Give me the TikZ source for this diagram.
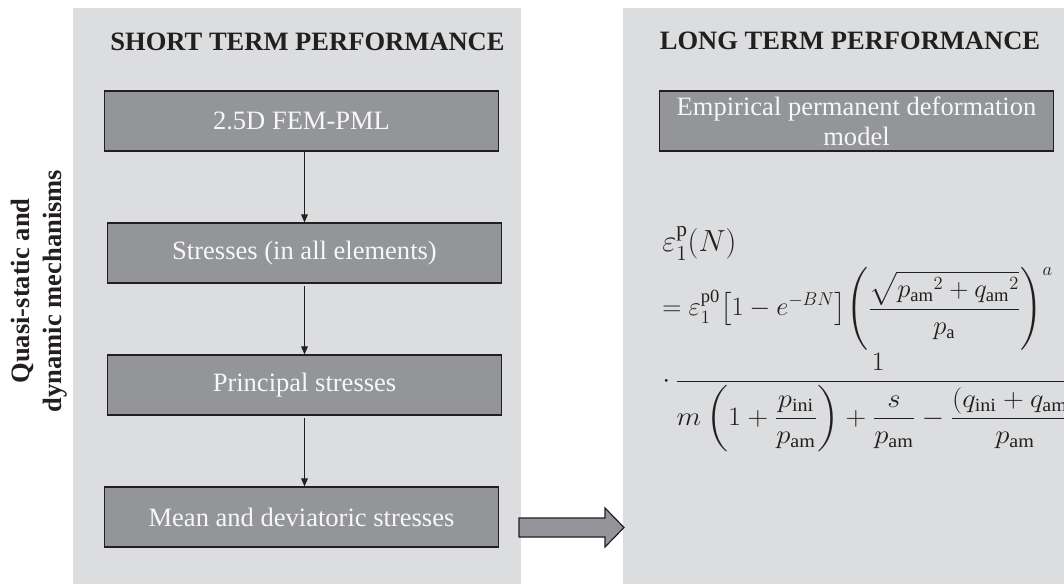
\RequirePackage{fix-cm}
\documentclass[tikz,border=0pt]{standalone}
\usepackage{amsmath}
\usepackage{fontspec}
\setmainfont{Liberation Serif}
\usetikzlibrary{arrows.meta,calc}
\definecolor{panelgray}{HTML}{DCDDDE}
\definecolor{boxgray}{HTML}{939598}
\definecolor{inkdark}{HTML}{231F20}
\definecolor{boxtext}{HTML}{F7F7F7}
\begin{document}
\begin{tikzpicture}[x=0.75pt,y=-0.75pt,
  panel/.style={fill=panelgray,draw=none},
  stepbox/.style={draw=inkdark,line width=0.9pt,fill=boxgray,text=boxtext,
    minimum width=296pt,minimum height=45pt,inner sep=0pt,align=center,
    font=\fontsize{19.9}{22.5}\selectfont},
  titletext/.style={text=inkdark,inner sep=0pt,anchor=base,
    font=\fontsize{19.9}{22.5}\selectfont\bfseries},
  flow/.style={draw=inkdark,line width=0.7pt,-{Triangle[length=6pt,width=5pt]}},
  bigarrow/.style={draw=inkdark,line width=0.9pt,fill=boxgray},
  mathtext/.style={text=inkdark,inner sep=0pt,anchor=base west,
    font=\fontsize{19.9}{22.5}\selectfont}]
\useasboundingbox (0,0) rectangle (1064,584);
\clip (0,0) rectangle (1064,584);
% panels
\fill[panel] (73,8) rectangle (521,590);
\fill[panel] (623,8) rectangle (1070,590);
% titles
\node[titletext] (t1) at (307.5,51) {SHORT TERM PERFORMANCE};
\node[titletext] (t2) at (850,50) {LONG TERM PERFORMANCE};
% side label
\node[text=inkdark,rotate=90,align=center,inner sep=0pt,
  font=\fontsize{19.9}{23.5}\selectfont\bfseries] (side) at (39,291)
  {Quasi-static and\\dynamic mechanisms};
% steps
\node[stepbox] (b1) at (301.5,121) {2.5D FEM-PML};
\node[stepbox] (b2) at (304.5,253) {Stresses (in all elements)};
\node[stepbox] (b3) at (304.5,385) {Principal stresses};
\node[stepbox] (b4) at (301.5,517) {Mean and deviatoric stresses};
\node[stepbox] (e1) at (856.5,121) {Empirical permanent deformation\\model};
\draw[flow] (b1.south -| b2.north) -- (b2.north);
\draw[flow,shorten <=2pt] (b2.south) -- (b3.north);
\draw[flow,shorten <=2pt] (b3.south) -- (b4.north -| b3.south);
% big arrow
\coordinate (ab) at (519,527.5);
\draw[bigarrow] (ab) ++(0,-9.5) -- ++(86,0) -- ++(0,-10) -- ++(19,19.5)
  -- ++(-19,19.5) -- ++(0,-10) -- ++(-86,0) -- cycle;
% formula
\node[mathtext] (f1) at (662,252) {\scalebox{1.15}{$\varepsilon_1^{\mathrm{p}}(N)$}};
\node[mathtext] (f2) at (662,316) {$\displaystyle =\varepsilon_1^{\mathrm{p0}}\bigl[1-e^{-BN}\bigr]{\left(\frac{\sqrt{{p_{\mathrm{am}}}^2+{q_{\mathrm{am}}}^2}}{p_{\mathrm{a}}}\right)^{a}}$};
\node[mathtext] (f3) at (662,388) {\scalebox{1.08}[1]{$\displaystyle \cdot\,\frac{1}{m\left(1+\dfrac{p_{\mathrm{ini}}}{p_{\mathrm{am}}}\right)+\dfrac{s}{p_{\mathrm{am}}}-\dfrac{(q_{\mathrm{ini}}+q_{\mathrm{am}})}{p_{\mathrm{am}}}}$}};
\end{tikzpicture}
\end{document}
